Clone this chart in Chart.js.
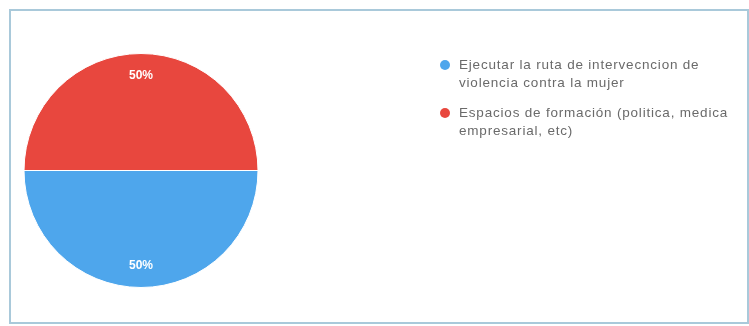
<!DOCTYPE html>
<html>
<head>
<meta charset="utf-8">
<script src="https://cdn.jsdelivr.net/npm/chart.js@4.4.1/dist/chart.umd.min.js"></script>
<style>
  html, body { margin: 0; padding: 0; background: #ffffff; }
  #wrap { position: relative; width: 749px; height: 326px; overflow: hidden; background: #fff; }
  #frame { position: absolute; left: 9px; top: 9px; width: 736px; height: 311px; border: 2px solid #a9c9da; }
  #c { position: absolute; left: 0; top: 0; }
  #legend { position: absolute; left: 439px; top: 56px; width: 310px; font-family: "Liberation Sans", Arial, sans-serif; font-size: 13.5px; letter-spacing: 0.8px; color: #6a6a6a; white-space: nowrap; }
  .item { position: relative; padding-left: 20px; line-height: 18px; margin-bottom: 12px; }
  .dot { position: absolute; left: 1px; top: 4px; width: 10px; height: 10px; border-radius: 50%; }
</style>
</head>
<body>
<div id="wrap">
  <div id="frame"></div>
  <canvas id="c" width="749" height="326"></canvas>
  <div id="legend"></div>
</div>
<script>
const categories = [
  "Ejecutar la ruta de intervecncion de violencia contra la mujer",
  "Espacios de formación (politica, medica, empresarial, etc)"
];
const legendLines = [
  ["Ejecutar la ruta de intervecncion de", "violencia contra la mujer"],
  ["Espacios de formación (politica, medica", "empresarial, etc)"]
];
const values = [50, 50];
const colors = ["#4ea6ec", "#e8473e"];

const legend = document.getElementById('legend');
categories.forEach((c, i) => {
  const d = document.createElement('div');
  d.className = 'item';
  const dot = document.createElement('span');
  dot.className = 'dot';
  dot.style.background = colors[i];
  d.appendChild(dot);
  legendLines[i].forEach((ln, j) => {
    if (j) d.appendChild(document.createElement('br'));
    d.appendChild(document.createTextNode(ln));
  });
  legend.appendChild(d);
});

const pctLabels = {
  id: 'pctLabels',
  afterDatasetsDraw(chart) {
    const ctx = chart.ctx;
    const meta = chart.getDatasetMeta(0);
    const total = values.reduce((a, b) => a + b, 0);
    ctx.save();
    ctx.font = 'bold 12px "Liberation Sans", Arial, sans-serif';
    ctx.fillStyle = '#ffffff';
    ctx.textAlign = 'center';
    ctx.textBaseline = 'middle';
    meta.data.forEach((arc, i) => {
      const mid = (arc.startAngle + arc.endAngle) / 2;
      const r = arc.outerRadius * 0.81;
      const x = arc.x + Math.cos(mid) * r;
      const y = arc.y + Math.sin(mid) * r;
      ctx.fillText(Math.round(values[i] / total * 100) + '%', x, y);
    });
    ctx.restore();
  }
};

new Chart(document.getElementById('c'), {
  type: 'pie',
  data: {
    labels: categories,
    datasets: [{
      data: values,
      backgroundColor: colors,
      borderColor: '#ffffff',
      borderWidth: 1
    }]
  },
  options: {
    responsive: false,
    animation: false,
    rotation: 90,
    layout: { padding: { left: 23, right: 490, top: 53, bottom: 38 } },
    plugins: {
      legend: { display: false },
      tooltip: { enabled: false }
    }
  },
  plugins: [pctLabels]
});
</script>
</body>
</html>
